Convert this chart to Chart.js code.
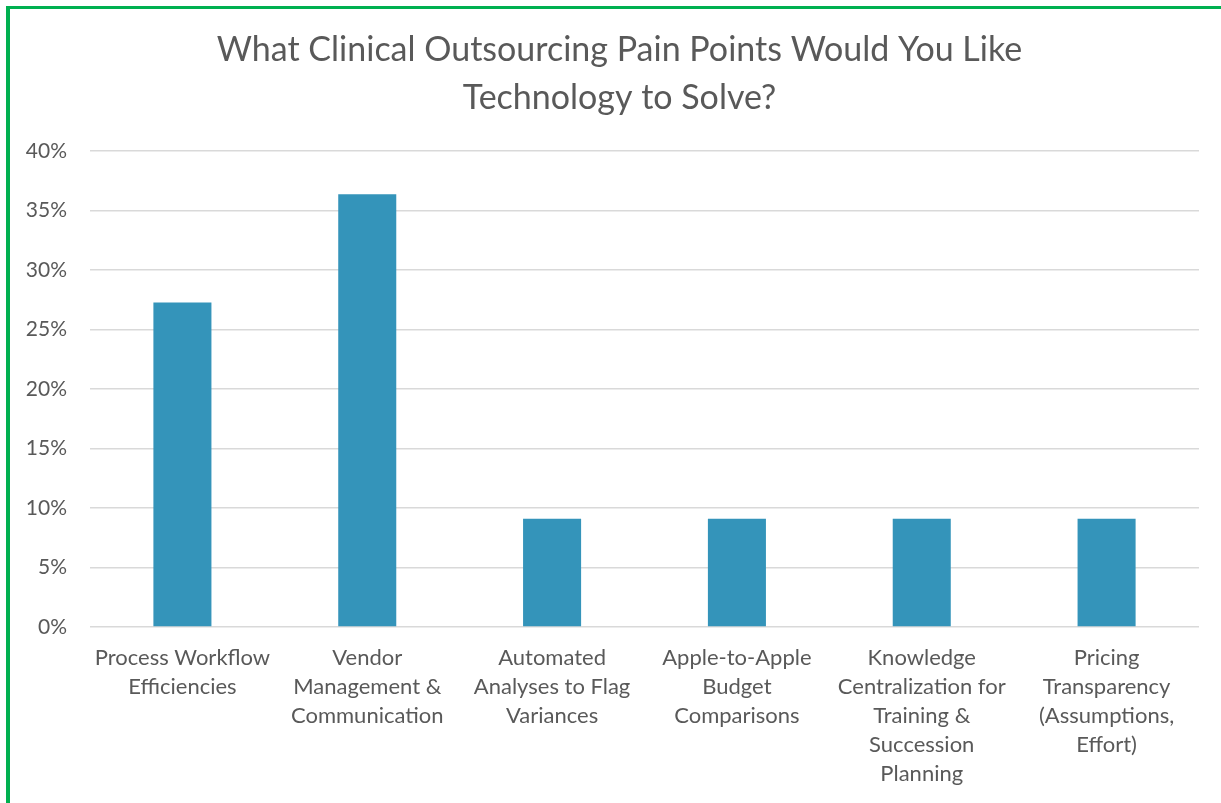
<!DOCTYPE html>
<html>
<head>
<meta charset="utf-8">
<script src="https://cdn.jsdelivr.net/npm/chart.js@4/dist/chart.umd.min.js"></script>
<style>
  html, body { margin: 0; padding: 0; background: #ffffff; }
  #wrap { position: relative; width: 1221px; height: 803px; overflow: hidden; }
  #frame { position: absolute; left: 6px; top: 6px; width: 1300px; height: 900px;
           border-top: 3px solid #00b050; border-left: 4px solid #00b050; box-sizing: border-box; }
  canvas { position: absolute; left: 0; top: 0; }
</style>
</head>
<body>
<div id="wrap">
  <div id="frame"></div>
  <canvas id="c" width="1221" height="803"></canvas>
</div>
<script>
const titleLines = ["What Clinical Outsourcing Pain Points Would You Like", "Technology to Solve?"];
const categories = [
  ["Process Workflow", "Efficiencies"],
  ["Vendor", "Management &", "Communication"],
  ["Automated", "Analyses to Flag", "Variances"],
  ["Apple-to-Apple", "Budget", "Comparisons"],
  ["Knowledge", "Centralization for", "Training &", "Succession", "Planning"],
  ["Pricing", "Transparency", "(Assumptions,", "Effort)"]
];
const values = [0.2727, 0.3636, 0.0909, 0.0909, 0.0909, 0.0909];
const yTicks = [0, 0.05, 0.10, 0.15, 0.20, 0.25, 0.30, 0.35, 0.40];

const FONT = "Lato, 'Open Sans', sans-serif";
const TXT = "#595959";

const shiftTitle = {
  id: "shiftTitle",
  afterLayout(chart) {
    const t = chart.titleBlock;
    if (t) { t.left += 20; t.right += 20; }
  }
};

new Chart(document.getElementById("c"), {
  type: "bar",
  data: {
    labels: categories,
    datasets: [{
      data: values,
      backgroundColor: "#3494ba",
      borderWidth: 0,
      barPercentage: 1,
      categoryPercentage: 0.314
    }]
  },
  plugins: [shiftTitle],
  options: {
    responsive: false,
    animation: false,
    layout: { padding: { left: 0, right: 22, top: 0, bottom: 0 } },
    plugins: {
      legend: { display: false },
      tooltip: { enabled: false },
      title: {
        display: true,
        text: titleLines,
        color: TXT,
        font: { family: FONT, size: 34, weight: "normal", lineHeight: 1.41 },
        padding: { top: 26, bottom: 29 }
      }
    },
    scales: {
      x: {
        grid: { display: false, drawTicks: false },
        border: { display: false },
        ticks: {
          color: TXT,
          font: { family: FONT, size: 22, lineHeight: 1.32 },
          padding: 16,
          maxRotation: 0,
          autoSkip: false
        },
        afterFit: (s) => { s.height = 176; }
      },
      y: {
        min: 0,
        max: 0.4,
        afterBuildTicks: (s) => { s.ticks = yTicks.map(v => ({ value: v })); },
        grid: { color: "#d9d9d9", lineWidth: 1.5, drawTicks: false },
        border: { display: false },
        ticks: {
          color: TXT,
          font: { family: FONT, size: 21 },
          padding: 23,
          callback: (v) => Math.round(v * 100) + "%"
        },
        afterFit: (s) => { s.width = 90; }
      }
    }
  }
});
</script>
</body>
</html>
